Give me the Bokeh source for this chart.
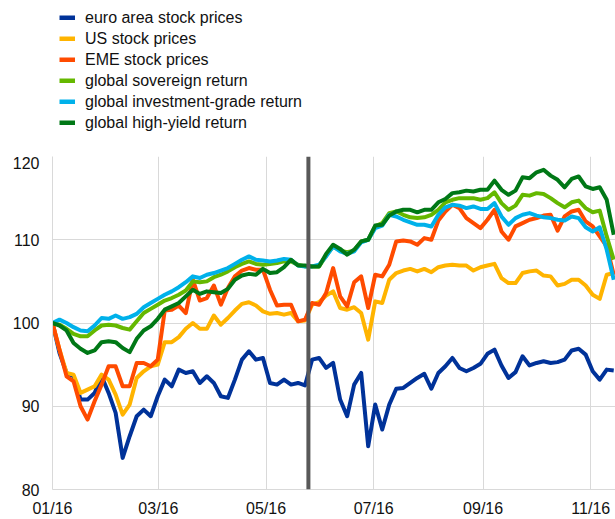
import pandas as pd
from bokeh.plotting import figure
from bokeh.layouts import column
from bokeh.models import (Range1d, FixedTicker, DatetimeTickFormatter, Legend,
                          LegendItem, Span, ColumnDataSource)
from bokeh.embed import file_html
from bokeh.resources import INLINE

# ---------------- data ----------------
start_date = "2016-01-01"
end_date = "2016-11-14"
n_points = 81
range_end = "2016-11-15"
event_date = "2016-05-25"

x_tick_dates = ["2016-01-01", "2016-03-01", "2016-05-01", "2016-07-01",
                "2016-09-01", "2016-11-01"]
y_ticks = [80, 90, 100, 110, 120]

series_names = ["euro area stock prices", "US stock prices", "EME stock prices",
                "global sovereign return", "global investment-grade return",
                "global high-yield return"]

euro_area = [100.0, 96.4, 94.0, 93.6, 90.8, 90.8, 91.6, 93.6, 91.6, 89.2,
             83.8, 86.4, 88.8, 89.6, 88.8, 91.2, 93.2, 92.4, 94.4, 94.0,
             94.2, 92.8, 93.6, 92.8, 91.2, 91.0, 93.2, 95.6, 96.6, 95.6,
             95.8, 92.8, 92.6, 93.2, 92.6, 92.8, 92.5, 95.6, 95.8, 94.6,
             95.2, 90.8, 88.8, 92.6, 94.0, 85.2, 90.2, 87.2, 90.2, 92.1,
             92.2, 92.8, 93.4, 93.9, 92.1, 94.0, 94.8, 95.8, 94.6, 94.2,
             94.6, 95.1, 96.3, 96.8, 94.9, 93.4, 94.1, 96.0, 94.9, 95.2,
             95.4, 95.2, 95.3, 95.6, 96.7, 96.9, 96.2, 94.2, 93.2, 94.4,
             94.3]

us = [100.0, 96.8, 94.0, 93.8, 91.6, 92.0, 92.4, 93.8, 93.2, 91.4,
      89.0, 90.2, 93.4, 94.2, 94.8, 95.0, 97.7, 97.7, 98.3, 99.3,
      100.0, 99.3, 99.3, 100.9, 99.8, 100.6, 101.5, 102.3, 102.5, 102.1,
      101.4, 101.1, 101.2, 101.0, 101.2, 100.2, 100.3,
      102.2, 102.5, 103.3, 103.8, 101.8, 101.6, 101.9, 101.2, 98.0, 102.6,
      102.4, 105.2, 106.0, 106.3, 106.5, 106.2, 106.5, 106.1, 106.7, 106.9,
      107.0, 106.9, 106.9, 106.3, 106.7, 106.9, 107.1, 105.4, 104.8, 104.8,
      106.0, 106.2, 106.3, 105.7, 105.6, 104.5, 104.7, 105.2, 105.2, 104.5,
      103.4, 102.9, 105.8, 106.0]

eme = [100.0, 96.8, 93.6, 93.0, 90.0, 88.4, 90.6, 92.6, 94.8, 94.8,
       92.4, 92.4, 95.2, 95.2, 94.8, 95.6, 101.5, 101.6, 102.1, 101.2,
       105.2, 102.7, 103.0, 104.5, 102.2, 104.2, 105.6, 106.3, 106.6, 106.4,
       106.4, 104.0, 102.1, 102.2, 102.2, 100.2, 100.4,
       102.4, 102.2, 103.6, 106.6, 103.2, 102.0, 104.9, 105.6, 101.8, 105.8,
       105.6, 107.0, 109.8, 109.9, 109.8, 109.4, 110.2, 110.0, 112.3, 113.4,
       114.2, 113.8, 112.6, 112.0, 111.4, 112.4, 113.6, 111.0, 110.0, 111.6,
       112.0, 112.4, 112.6, 112.9, 113.0, 111.1, 112.8, 113.4, 113.6, 112.2,
       111.6, 110.4, 109.2, 105.8]

sovereign = [100.0, 99.8, 99.3, 98.7, 98.4, 98.4, 99.1, 99.7, 99.8, 99.7,
             99.4, 99.2, 100.2, 101.2, 101.7, 102.2, 102.7, 103.0, 103.4, 103.9,
             105.0, 104.9, 105.0, 105.5, 105.8, 106.2, 106.7, 107.1, 107.4, 107.1,
             107.0, 107.1, 107.2, 107.4, 107.4, 107.0, 106.8,
             106.8, 106.8, 108.1, 109.2, 108.7, 108.5, 108.7, 109.8, 110.0, 111.6,
             112.0, 113.2, 113.4, 113.0, 112.7, 112.6, 112.7, 113.0, 113.6, 114.5,
             114.8, 115.0,
             115.0, 115.0, 114.8, 115.0, 115.7, 114.4, 113.6, 114.1, 115.4, 115.3,
             115.6, 115.5, 115.0, 114.4, 113.9, 114.5, 114.7, 113.8, 113.3, 113.5,
             110.4, 107.6]

inv_grade = [100.0, 100.4, 100.0, 99.5, 99.1, 99.0, 99.7, 100.6, 100.5, 100.9,
             100.5, 100.7, 101.1, 101.9, 102.4, 102.9, 103.4, 103.8, 104.3, 104.9,
             105.6, 105.4, 105.8, 106.0, 106.3, 106.6, 107.1, 107.6, 108.0, 107.6,
             107.5, 107.4, 107.5, 107.7, 107.6, 106.9, 106.8,
             106.8, 107.0, 108.0, 109.2, 108.6, 108.3, 108.6, 109.7, 110.0, 111.4,
             111.7, 113.0, 112.8, 112.4, 112.1, 111.8, 111.8, 111.6, 113.0, 113.9,
             114.2, 114.1, 113.8, 114.0, 113.7, 113.7, 114.4, 112.8, 111.8, 112.6,
             113.0, 113.2, 112.9, 112.7, 112.6, 112.4, 112.3, 112.8, 112.6, 111.5,
             111.0, 111.5, 108.8, 105.2]

high_yield = [100.0, 99.7, 99.1, 97.6, 96.9, 96.4, 96.7, 97.7, 97.8, 97.7,
              97.0, 96.5, 98.1, 99.1, 99.6, 100.5, 101.6, 102.0, 102.4, 103.2,
              104.0, 103.5, 103.8, 103.7, 103.6, 104.1, 105.2, 105.7, 105.9, 105.8,
              106.5, 106.0, 106.1, 106.7, 107.6, 106.9, 106.9,
              106.8, 106.8, 108.3, 109.4, 108.9, 108.2, 108.8, 109.8, 110.0, 111.7,
              111.8, 112.9, 113.4, 113.6, 113.6, 113.3, 113.6, 113.6, 114.5, 114.9,
              115.6, 115.7, 115.9, 115.8, 116.0, 116.0, 117.1, 116.0, 115.4, 115.9,
              117.5, 117.4, 118.1, 118.4, 117.7, 117.2, 116.3, 117.3, 117.6, 116.4,
              116.1, 116.3, 114.8, 110.6]

colors = ["#003299", "#ffb400", "#ff4b00", "#65b800", "#00b1ea", "#007816"]

# ---------------- plot ----------------
dates = pd.date_range(start_date, end_date, periods=n_points)
values = [euro_area, us, eme, sovereign, inv_grade, high_yield]
keys = ["euro", "us", "eme", "sov", "ig", "hy"]
data = {"date": dates}
for k, v in zip(keys, values):
    data[k] = v
source = ColumnDataSource(data)


def ms(d):
    return int(pd.Timestamp(d).value // 10**6)


FONT = "Liberation Sans"
TEXT_COLOR = "#111111"
W = 615
LEG_H = 156
MAIN_H = 363
LEG_MARGIN = 7

# ---- legend strip (top) ----
lf = figure(width=W, height=LEG_H, x_range=Range1d(0, 1), y_range=Range1d(0, 1),
            title=None, output_backend="svg", toolbar_location=None,
            min_border_left=52 - LEG_MARGIN, min_border_right=0, min_border_top=0,
            min_border_bottom=0)
lf.axis.visible = False
lf.grid.visible = False
lf.outline_line_color = None
leg_renderers = []
for c in colors:
    leg_renderers.append(lf.line(x=[5, 6], y=[5, 6], line_color=c, line_width=5))
items = [LegendItem(label=n, renderers=[r]) for n, r in zip(series_names, leg_renderers)]
legend = Legend(items=items, location="top_left", orientation="vertical",
                glyph_width=16, glyph_height=5, label_height=21, label_standoff=10,
                spacing=0, padding=0, margin=LEG_MARGIN, border_line_color=None,
                background_fill_alpha=0, label_text_font=FONT,
                label_text_font_size="16px", label_text_color=TEXT_COLOR)
lf.add_layout(legend, "center")

# ---- main chart ----
p = figure(width=W, height=MAIN_H, x_axis_type="datetime",
           x_range=Range1d(ms(start_date), ms(range_end)),
           y_range=Range1d(y_ticks[0], y_ticks[-1]),
           title=None, output_backend="svg", toolbar_location=None,
           min_border_left=52, min_border_right=0, min_border_top=0,
           min_border_bottom=0)
p.outline_line_color = None

grid_color = "#d9d9d9"
xt = FixedTicker(ticks=[ms(d) for d in x_tick_dates])
yt = FixedTicker(ticks=y_ticks)
p.xaxis.ticker = xt
p.yaxis.ticker = yt
p.xgrid.ticker = xt
p.ygrid.ticker = yt
for g in (p.xgrid, p.ygrid):
    g.grid_line_color = grid_color
    g.grid_line_width = 1
p.xaxis.formatter = DatetimeTickFormatter(days="%m/%y", months="%m/%y", years="%m/%y")
for ax in (p.xaxis, p.yaxis):
    ax.axis_line_color = grid_color
    ax.major_tick_line_color = None
    ax.minor_tick_line_color = None
    ax.major_tick_out = 0
    ax.major_tick_in = 0
    ax.major_label_text_font = FONT
    ax.major_label_text_font_size = "16px"
    ax.major_label_text_color = TEXT_COLOR
p.xaxis.major_label_standoff = 10
p.yaxis.major_label_standoff = 13

for k, c in zip(keys, colors):
    p.line("date", k, source=source, line_color=c, line_width=4, line_join="round")

p.add_layout(Span(location=ms(event_date), dimension="height",
                  line_color="#595959", line_width=4))

layout = column(lf, p, spacing=0)
open("out.html", "w").write(file_html(layout, INLINE))
